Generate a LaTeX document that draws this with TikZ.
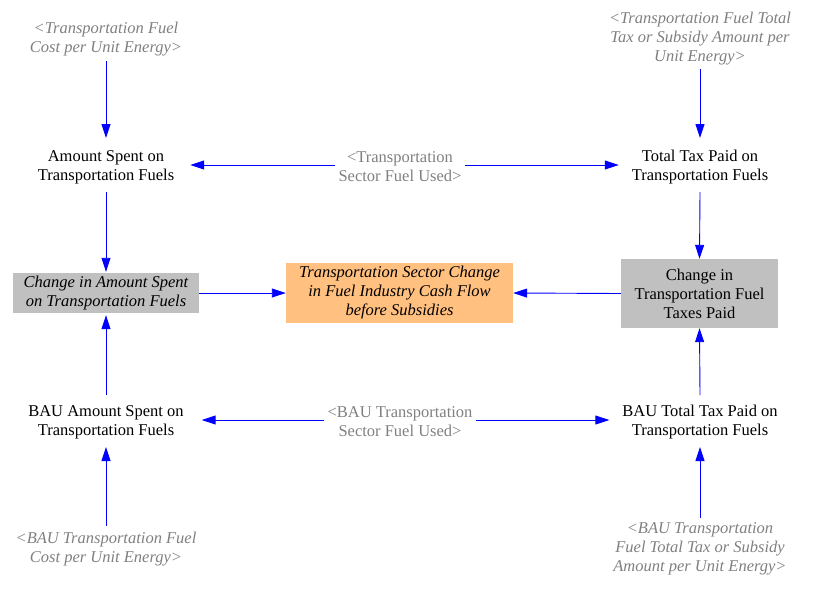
\documentclass[tikz,border=0pt]{standalone}
\usepackage{fontspec}
\setmainfont{Liberation Serif}
\newfontfamily\vfont{Liberation Serif}
\usetikzlibrary{arrows.meta}
\definecolor{ghost}{RGB}{128,128,128}
\definecolor{boxgray}{RGB}{192,192,192}
\definecolor{boxorange}{RGB}{255,192,128}
\definecolor{arrowblue}{RGB}{0,0,255}
\begin{document}
\begin{tikzpicture}[x=1pt,y=-1pt,
  every node/.style={font=\vfont\fontsize{16.5}{19}\selectfont, align=center},
  var/.style={inner sep=0pt, outer sep=0pt, minimum height=46pt},
  ghostvar/.style={text=ghost, font=\vfont\fontsize{16.5}{19}\selectfont\itshape, inner sep=0pt},
  ghostplain/.style={text=ghost, inner sep=0pt},
  graybox/.style={fill=boxgray, inner sep=0pt},
  orangebox/.style={fill=boxorange, inner sep=0pt, font=\vfont\fontsize{16.5}{19}\selectfont\itshape},
  link/.style={draw=arrowblue, line width=0.9pt, -{Triangle[length=14pt,width=9pt]}}
]
\useasboundingbox (0,0) rectangle (813,589);
% ghosts
\node[ghostvar] (g1) at (106,39) {<Transportation Fuel\\Cost per Unit Energy>};
\node[ghostvar] (g2) at (700,39) {<Transportation Fuel Total\\Tax or Subsidy Amount per\\Unit Energy>};
\node[ghostplain] (g3) at (400,167) {<Transportation\\Sector Fuel Used>};
\node[ghostplain] (g4) at (400,422) {<BAU Transportation\\Sector Fuel Used>};
\node[ghostvar] (g5) at (106,549) {<BAU Transportation Fuel\\Cost per Unit Energy>};
\node[ghostvar] (g6) at (700,549) {<BAU Transportation\\Fuel Total Tax or Subsidy\\Amount per Unit Energy>};
% variables
\node[var] (amt) at (106,167) {Amount Spent on\\Transportation Fuels};
\node[var] (tax) at (700,167) {Total Tax Paid on\\Transportation Fuels};
\node[var] (bamt) at (106,422) {BAU Amount Spent on\\Transportation Fuels};
\node[var] (btax) at (700,422) {BAU Total Tax Paid on\\Transportation Fuels};
\node[graybox, minimum width=186pt, minimum height=40pt, font=\vfont\fontsize{16.5}{19}\selectfont\itshape] (camt) at (106,293) {Change in Amount Spent\\on Transportation Fuels};
\node[orangebox, minimum width=227pt, minimum height=60pt] (cf) at (399.5,293) {Transportation Sector Change\\in Fuel Industry Cash Flow\\before Subsidies};
\node[graybox, minimum width=157pt, minimum height=69pt] (ctax) at (699.5,293.5) {Change in\\Transportation Fuel\\Taxes Paid};
% connectors (canvas y points up: positive yshift moves up the page)
\draw[link] ([yshift=-5pt]g1.south) -- ([yshift=6pt]amt.north);
\draw[link] ([yshift=-3pt]g2.south) -- ([yshift=6pt]tax.north);
\draw[link] ([xshift=-3pt,yshift=2pt]g3.west) -- ([xshift=16pt,yshift=2pt]amt.east);
\draw[link] ([xshift=3pt,yshift=2pt]g3.east) -- ([xshift=-13pt,yshift=2pt]tax.west);
\draw[link] ([yshift=-2pt]amt.south) -- ([yshift=1pt]camt.north);
\draw[link] ([yshift=-2pt]tax.south) -- (ctax.north);
\draw[link] (camt.east) -- (cf.west);
\draw[link] (ctax.west) -- (cf.east);
\draw[link] ([yshift=4pt]bamt.north) -- ([yshift=-2pt]camt.south);
\draw[link] ([yshift=4pt]btax.north) -- (ctax.south);
\draw[link] ([xshift=-3pt,yshift=2pt]g4.west) -- ([xshift=18pt,yshift=2pt]bamt.east);
\draw[link] ([xshift=3pt,yshift=2pt]g4.east) -- ([xshift=-13pt,yshift=2pt]btax.west);
\draw[link] ([yshift=6pt]g5.north) -- ([yshift=-2pt]bamt.south);
\draw[link] ([yshift=5pt]g6.north) -- ([yshift=-2pt]btax.south);
\end{tikzpicture}
\end{document}
